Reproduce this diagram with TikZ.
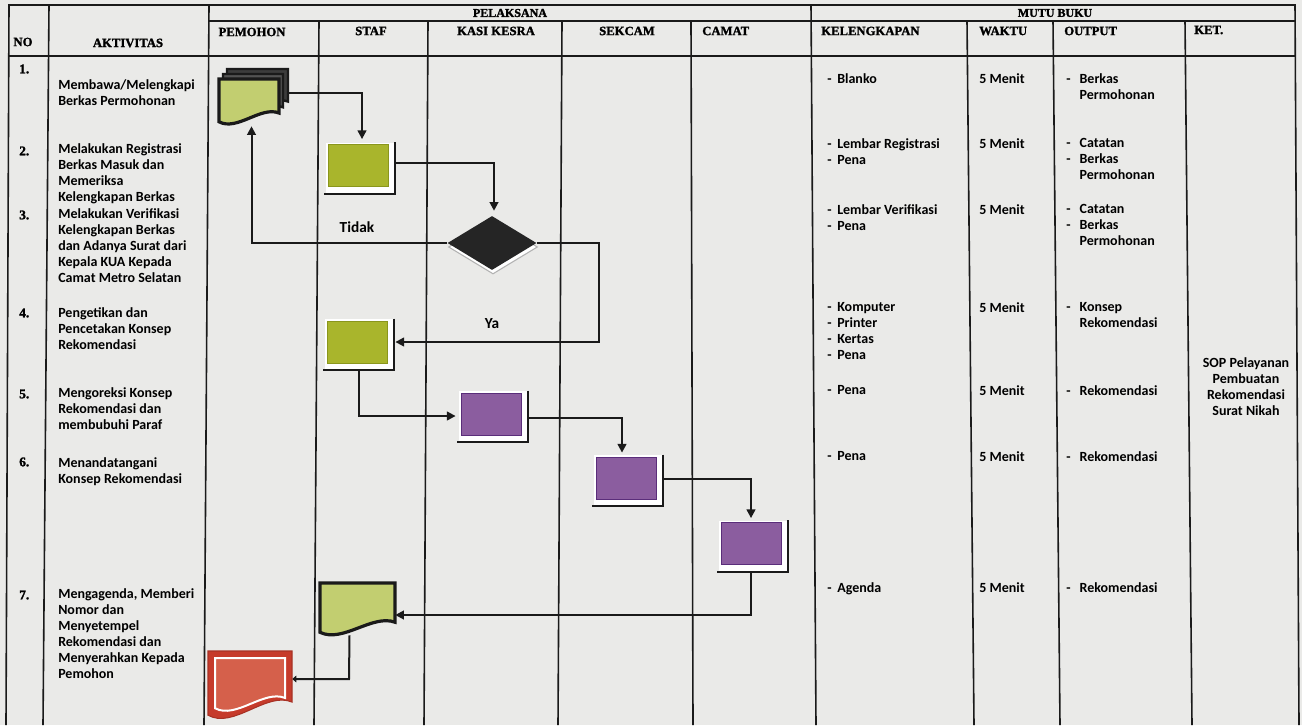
\documentclass[tikz,border=0pt]{standalone}
\usepackage{fontspec}
\setmainfont{Carlito}
\newfontfamily\hdfont[BoldFeatures={FakeBold=1.6}]{Liberation Serif}
\usetikzlibrary{calc,shapes.geometric,arrows.meta}
\definecolor{paper}{HTML}{EAEAE8}
\definecolor{gproc}{HTML}{A9B52C}
\definecolor{gprocd}{HTML}{8A961C}
\definecolor{gdoc}{HTML}{C2CE70}
\definecolor{purp}{HTML}{8B5D9F}
\definecolor{purpd}{HTML}{5A2D7A}
\definecolor{redout}{HTML}{C63B2B}
\definecolor{redin}{HTML}{D5604B}
\definecolor{ink}{HTML}{1A1A1A}
% document shape: x1,y1,x2,y2(lowest),style
\newcommand\docshape[5]{%
  \path[#5] (#1,#2) -- (#3,#2) -- (#3,{#2+0.74*(#4-#2)})
   .. controls ({#1+0.7*(#3-#1)},{#2+0.58*(#4-#2)}) and ({#1+0.3*(#3-#1)},{#2+1.14*(#4-#2)}) ..
   (#1,{#2+0.93*(#4-#2)}) -- cycle;}
\newcommand\dsh[1]{\makebox[#1][l]{-}}
\newcommand\procbox[4]{%
  \fill[white] ({#2-32},{#3-23}) rectangle ({#2+37},{#3+28});
  \node[proc,#4] (#1) at (#2,#3) {};
  \draw[line width=1.6pt,ink] ($(#1.north east)+(7,-2)$) -- ($(#1.south east)+(7,7)$) -- ($(#1.south west)+(-4,7)$);}
\tikzset{
  grid/.style={line width=1.2pt, draw=ink},
  hd/.style={font={\hdfont\bfseries\fontsize{9.5}{11}\selectfont}, inner sep=0pt},
  hdtop/.style={font={\hdfont\bfseries\fontsize{9}{11}\selectfont}, inner sep=0pt},
  num/.style={font={\hdfont\bfseries\fontsize{10}{12}\selectfont}, inner sep=0pt, anchor=west},
  txt/.style={font=\bfseries\fontsize{10.5}{12}\selectfont, anchor=north west, inner sep=0pt, align=left},
  ket/.style={txt, anchor=north, align=center},
  lbl/.style={font=\bfseries\fontsize{11.5}{13}\selectfont, inner sep=0pt},
  proc/.style={rectangle, inner sep=0pt, minimum width=45pt, minimum height=31.5pt, line width=0.6pt},
  gbox/.style={fill=gproc, draw=gprocd},
  pbox/.style={fill=purp, draw=purpd},
  ghost/.style={rectangle, inner sep=0pt, draw=none},
  arr/.style={line width=1.5pt, draw=ink, -{Triangle[length=6.5pt,width=6.5pt]}},
  arrs/.style={line width=1.5pt, draw=ink, -{Triangle[length=3pt,width=5pt]}}
}
\begin{document}
\begin{tikzpicture}[x=0.75pt,y=-0.75pt]
\fill[paper] (0,0) rectangle (1302,725);
\useasboundingbox (0,0) rectangle (1302,725);
% ---------- table ----------
\draw[grid] (8,5) -- (1296,5);
\draw[grid] (209,21) -- (1296,21);
\draw[grid] (8,56) -- (1296,56);
\draw[grid] (9,5) -- (6,725);
\draw[grid] (49,5) -- (43,725);
\draw[grid] (209,5) -- (204,725);
\draw[grid] (319,21) -- (314,725);
\draw[grid] (428,21) -- (424,725);
\draw[grid] (562,21) -- (558,725);
\draw[grid] (691,21) -- (693,725);
\draw[grid] (811,5) -- (816,725);
\draw[grid] (967,21) -- (974,725);
\draw[grid] (1053,21) -- (1060,725);
\draw[grid] (1185,21) -- (1192,725);
\draw[grid] (1295,5) -- (1299,725);
% ---------- header ----------
\node[hdtop] (hPel) at (510,13) {PELAKSANA};
\node[hdtop] (hMutu) at (1055,13) {MUTU BUKU};
\node[hd] (hNo) at (23,42) {NO};
\node[hd] (hAkt) at (128,43) {AKTIVITAS};
\node[hd] (hPem) at (252,32) {PEMOHON};
\node[hd] (hStaf) at (371,31) {STAF};
\node[hd] (hKasi) at (496,31) {KASI KESRA};
\node[hd] (hSek) at (627,31) {SEKCAM};
\node[hd,anchor=west] (hCam) at (702,31) {CAMAT};
\node[hd,anchor=west] (hKel) at (821,31) {KELENGKAPAN};
\node[hd,anchor=west] (hWak) at (979,31) {WAKTU};
\node[hd,anchor=west] (hOut) at (1064,31) {OUTPUT};
\node[hd,anchor=west] (hKet) at (1194,30) {KET.};
% ---------- numbers ----------
\node[num] (n1) at (19,69) {1.};
\node[num] (n2) at (19,151) {2.};
\node[num] (n3) at (19,215) {3.};
\node[num] (n4) at (19,313) {4.};
\node[num] (n5) at (19,394) {5.};
\node[num] (n6) at (19,462) {6.};
\node[num] (n7) at (19,595) {7.};
% ---------- activities ----------
\node[txt] (a1) at (58,79) {Membawa/Melengkapi\\Berkas Permohonan};
\node[txt] (a2) at (58,143) {Melakukan Registrasi\\Berkas Masuk dan\\Memeriksa\\Kelengkapan Berkas};
\node[txt] (a3) at (58,208) {Melakukan Verifikasi\\Kelengkapan Berkas\\dan Adanya Surat dari\\Kepala KUA Kepada\\Camat Metro Selatan};
\node[txt] (a4) at (58,307) {Pengetikan dan\\Pencetakan Konsep\\Rekomendasi};
\node[txt] (a5) at (58,387) {Mengoreksi Konsep\\Rekomendasi dan\\membubuhi Paraf};
\node[txt] (a6) at (58,457) {Menandatangani\\Konsep Rekomendasi};
\node[txt] (a7) at (58,588) {Mengagenda, Memberi\\Nomor dan\\Menyetempel\\Rekomendasi dan\\Menyerahkan Kepada\\Pemohon};
% ---------- kelengkapan ----------
\node[txt] (k1) at (827,73) {\dsh{7.5pt}Blanko};
\node[txt] (k2) at (827,138) {\dsh{7.5pt}Lembar Registrasi\\\dsh{7.5pt}Pena};
\node[txt] (k3) at (827,204) {\dsh{7.5pt}Lembar Verifikasi\\\dsh{7.5pt}Pena};
\node[txt] (k4) at (827,302) {\dsh{7.5pt}Komputer\\\dsh{7.5pt}Printer\\\dsh{7.5pt}Kertas\\\dsh{7.5pt}Pena};
\node[txt] (k5) at (827,385) {\dsh{7.5pt}Pena};
\node[txt] (k6) at (827,451) {\dsh{7.5pt}Pena};
\node[txt] (k7) at (827,582) {\dsh{7.5pt}Agenda};
% ---------- waktu ----------
\node[txt] (w1) at (979,73) {5 Menit};
\node[txt] (w2) at (979,138) {5 Menit};
\node[txt] (w3) at (979,204) {5 Menit};
\node[txt] (w4) at (979,302) {5 Menit};
\node[txt] (w5) at (979,385) {5 Menit};
\node[txt] (w6) at (979,451) {5 Menit};
\node[txt] (w7) at (979,582) {5 Menit};
% ---------- output ----------
\node[txt] (o1) at (1066,73) {\dsh{10pt}Berkas\\\hspace*{10pt}Permohonan};
\node[txt] (o2) at (1066,138) {\dsh{10pt}Catatan\\\dsh{10pt}Berkas\\\hspace*{10pt}Permohonan};
\node[txt] (o3) at (1066,204) {\dsh{10pt}Catatan\\\dsh{10pt}Berkas\\\hspace*{10pt}Permohonan};
\node[txt] (o4) at (1066,302) {\dsh{10pt}Konsep\\\hspace*{10pt}Rekomendasi};
\node[txt] (o5) at (1066,385) {\dsh{10pt}Rekomendasi};
\node[txt] (o6) at (1066,451) {\dsh{10pt}Rekomendasi};
\node[txt] (o7) at (1066,582) {\dsh{10pt}Rekomendasi};
% ---------- ket ----------
\node[ket] (ket) at (1246,357) {SOP Pelayanan\\Pembuatan\\Rekomendasi\\Surat Nikah};
% ---------- shapes ----------
% multi document (pemohon)
\docshape{227}{69}{288}{113}{fill=ink!85, draw=ink, line width=1.8pt}
\docshape{223}{74}{283}{119}{fill=ink!75, draw=ink, line width=1.8pt}
\docshape{219}{79}{279}{125}{fill=gdoc, draw=ink, line width=2.4pt}
\node[ghost, minimum width=51.75pt, minimum height=42pt] (md) at (253.5,97) {};
% process boxes
\procbox{g2}{358}{165.5}{gbox}
\procbox{g4}{357}{342}{gbox}
\procbox{p1}{491}{414}{pbox}
\procbox{p2}{626}{478}{pbox}
\procbox{p3}{751}{543.5}{pbox}
% decision
\node[diamond, fill=white, draw=black!30, line width=0.8pt, minimum width=66.75pt, minimum height=40.5pt, inner sep=0pt, aspect=1.65] (dsh) at (493,247) {};
\node[diamond, fill=ink!95, minimum width=66.75pt, minimum height=40.5pt, inner sep=0pt, aspect=1.65] (dia) at (492,243) {};
% document staf row 7
\docshape{320}{583}{395}{636}{fill=gdoc, draw=ink, line width=2.4pt}
\node[ghost, minimum width=56.25pt, minimum height=39.75pt] (doc7) at (357.5,609.5) {};
% red document
\docshape{208}{651}{292}{720}{fill=redout, draw=redout!85!black, line width=0.8pt}
\docshape{215}{658}{285}{712}{fill=redin, draw=white, line width=1.5pt}
\node[ghost, minimum width=63pt, minimum height=50.25pt] (red) at (250,684.5) {};
% ---------- labels ----------
\node[lbl] (tidak) at (357,227) {Tidak};
\node[lbl] (ya) at (492,324) {Ya};
% ---------- connectors ----------
\draw[arr] ($(md.east)+(0,-4)$) -| ($(g2.north)+(4,-5)$);
\draw[arr] ($(g2.east)+(7,-3)$) -| ($(dia.north)+(2,-5)$);
\draw[arr] (dia.west) -| ($(md.south)+(-2,1)$);
\coordinate (yc) at (599,342);
\draw[arr] (dia.east) -| (yc) -- ($(g4.east)+(8,0)$);
\draw[arr] ($(g4.south)+(2,7)$) |- ($(p1.west)+(-5,2)$);
\draw[arr] ($(p1.east)+(7,4)$) -| ($(p2.north)+(-4,-4)$);
\draw[arr] ($(p2.east)+(7,1)$) -| ($(p3.north)+(0,-4)$);
\coordinate (c8) at (751,615);
\draw[arr] ($(p3.south)+(0,8)$) -- (c8) -- (doc7.east |- c8);
\coordinate (c9) at (349,679);
\draw[arrs] ($(doc7.south)+(-8,-1)$) -- (c9) -- (red.east |- c9);
\end{tikzpicture}
\end{document}
